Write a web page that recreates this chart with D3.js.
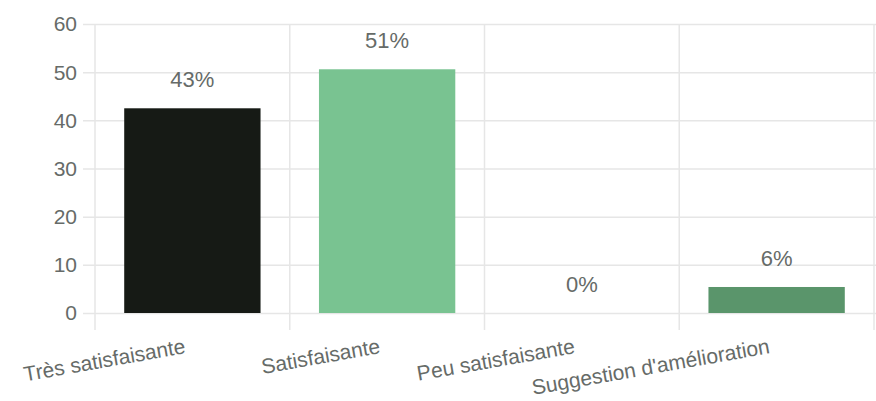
<!DOCTYPE html>
<html><head><meta charset="utf-8">
<script src="https://cdn.jsdelivr.net/npm/d3@7"></script>
<style>body{margin:0;background:#fff}svg{display:block}</style>
</head><body>
<svg id="c" width="876" height="401"></svg>
<script>
const categories = ["Très satisfaisante", "Satisfaisante", "Peu satisfaisante", "Suggestion d'amélioration"];
const values = [42.5, 50.6, 0, 5.4];
const valueLabels = ["43%", "51%", "0%", "6%"];
const barColors = ["#161a15", "#79c391", "#79c391", "#5a956b"];
const yTicks = [0, 10, 20, 30, 40, 50, 60];

const svg = d3.select("#c");
const m = {left: 95, right: 2, top: 24, bottom: 88};
const W = 876, H = 401;
const x = d3.scaleBand().domain(categories).range([m.left, W - m.right]).paddingInner(0).paddingOuter(0);
const y = d3.scaleLinear().domain([0, 60]).range([H - m.bottom, m.top]);
const font = "'Liberation Sans', Arial, sans-serif";
const grid = "#e6e6e6";
const txt = "#666b68";

// horizontal gridlines
svg.append("g").selectAll("line").data(yTicks).join("line")
  .attr("x1", m.left - 12).attr("x2", W)
  .attr("y1", d => y(d) + 0.5).attr("y2", d => y(d) + 0.5)
  .attr("stroke", grid).attr("stroke-width", 1.5);
// vertical gridlines
const vx = categories.map(c => x(c)).concat([x(categories[3]) + x.bandwidth()]);
svg.append("g").selectAll("line").data(vx).join("line")
  .attr("x1", d => d).attr("x2", d => d)
  .attr("y1", m.top).attr("y2", y(0) + 17)
  .attr("stroke", grid).attr("stroke-width", 1.5);

// y tick labels
svg.append("g").selectAll("text").data(yTicks).join("text")
  .attr("x", m.left - 18).attr("y", d => y(d)).attr("dy", "0.35em")
  .attr("text-anchor", "end").attr("font-family", font).attr("font-size", 21)
  .attr("fill", txt).text(d => d);

// bars
const bw = x.bandwidth() * 0.7;
svg.append("g").selectAll("rect").data(values).join("rect")
  .attr("x", (d, i) => x(categories[i]) + (x.bandwidth() - bw) / 2)
  .attr("width", bw)
  .attr("y", d => y(d)).attr("height", d => y(0) - y(d))
  .attr("fill", (d, i) => barColors[i]);

// value labels
svg.append("g").selectAll("text").data(values).join("text")
  .attr("x", (d, i) => x(categories[i]) + x.bandwidth() / 2)
  .attr("y", d => y(d) - 21)
  .attr("text-anchor", "middle").attr("font-family", font).attr("font-size", 22)
  .attr("fill", txt).text((d, i) => valueLabels[i]);

// x labels
svg.append("g").selectAll("text").data(categories).join("text")
  .attr("transform", c => `translate(${x(c) + x.bandwidth() / 2 - 6},${y(0) + 40}) rotate(-10)`)
  .attr("text-anchor", "end").attr("font-family", font).attr("font-size", 21)
  .attr("fill", txt).text(c => c);
</script>
</body></html>
